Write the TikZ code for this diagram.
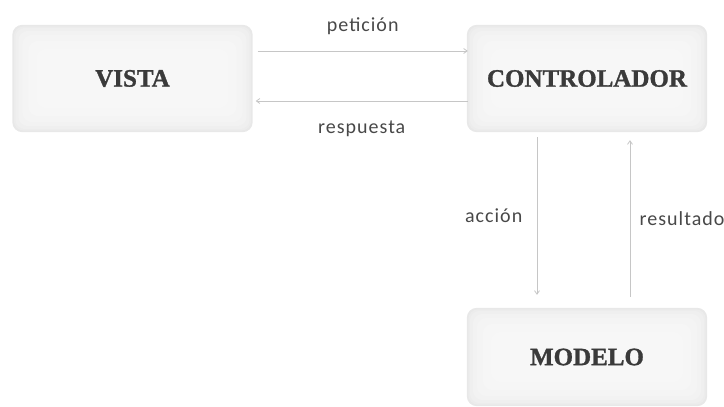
\documentclass[tikz,border=0pt]{standalone}
\usepackage{fontspec}
\setmainfont{Liberation Serif}[BoldFeatures={FakeBold=1.2}]
\newfontfamily\labelfont{Carlito}[LetterSpace=5]
\usetikzlibrary{arrows.meta,backgrounds}

\definecolor{boxtext}{HTML}{3A3A3A}
\definecolor{labeltext}{HTML}{484848}
\definecolor{arrowgray}{HTML}{C6C6C6}

\tikzset{
  x=1pt, y=-1pt,
  mvcbox/.style={minimum width=240pt, minimum height=107pt, inner sep=0pt,
    font=\fontsize{25}{28}\selectfont\bfseries, text=boxtext},
  flow/.style={draw=arrowgray, line width=0.8pt,
    -{Straight Barb[length=3.5pt,width=5pt]}},
  flowlabel/.style={font=\labelfont\fontsize{20}{22}\selectfont, text=labeltext}
}

% soft, light grey panel behind a node: faint rim fading to a near-white centre
\newcommand{\softpanel}[1]{%
  \begin{scope}[on background layer]
    \foreach \d/\c in {0/E8E8E8,1.5/ECECEC,3/EFEFEF,6/F2F2F2,10/F4F4F4,16/F6F6F6,24/F7F7F7}{
      \definecolor{panelshade}{HTML}{\c}
      \fill[panelshade, rounded corners=10pt]
        ([shift={(\d,\d)}]#1.north west) rectangle ([shift={(-\d,-\d)}]#1.south east);
    }
  \end{scope}}

\begin{document}
\begin{tikzpicture}
  \useasboundingbox (0,0) rectangle (724,407);

  \node[mvcbox] (vista) at (132.5,78.5) {VISTA};
  \node[mvcbox] (ctrl)  at (587,78.5)   {CONTROLADOR};
  \node[mvcbox, minimum height=98pt] (modelo) at (587,357) {MODELO};

  \softpanel{vista}
  \softpanel{ctrl}
  \softpanel{modelo}

  % request / response between view and controller
  \draw[flow] ([shift={(5,-27.5)}]vista.east) -- ([shift={(1,-27.5)}]ctrl.west)
    node[midway, above=13pt, flowlabel] (lpet) {petición};
  \draw[flow] ([shift={(1,22.5)}]ctrl.west) -- ([shift={(3,22.5)}]vista.east)
    node[midway, below=16pt, flowlabel] (lresp) {respuesta};

  % action / result between controller and model
  \draw[flow] ([shift={(-50,5)}]ctrl.south) -- ([shift={(-50,-13)}]modelo.north)
    node[midway, left=11pt, flowlabel] (lacc) {acción};
  \draw[flow] ([shift={(43,-11)}]modelo.north) -- ([shift={(43,8)}]ctrl.south)
    node[midway, right=6pt, flowlabel] (lres) {resultado};
\end{tikzpicture}
\end{document}
